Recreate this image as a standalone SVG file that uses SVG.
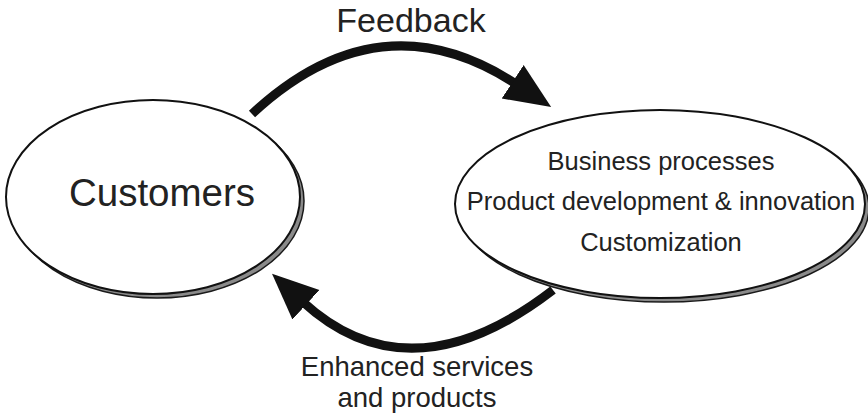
<svg xmlns="http://www.w3.org/2000/svg" width="868" height="417" viewBox="0 0 868 417">
<style>
.shadow{fill:#8a8a8a;stroke:#1a1a1a;stroke-width:1.5}
.main{fill:#fff;stroke:#111;stroke-width:2}
.t{font-family:"Liberation Sans",Arial,sans-serif;fill:#222;text-anchor:middle}
.conn{fill:none;stroke:#111;stroke-width:9}
</style>
<defs>
<marker id="ah" markerUnits="userSpaceOnUse" markerWidth="48" markerHeight="42" refX="4" refY="21" orient="auto" viewBox="0 0 48 42">
<polygon points="0,1 46,21 0,41" fill="#111"/>
</marker>
</defs>
<g id="connectors">
<path class="conn" d="M252,114 Q380,-5 516,84" marker-end="url(#ah)"/>
<path class="conn" d="M553,290 Q410,400 303,302" marker-end="url(#ah)"/>
</g>
<g id="customers">
<ellipse class="shadow" cx="157" cy="201" rx="147" ry="97"/>
<ellipse class="main" cx="153" cy="197" rx="147" ry="97"/>
<text class="t" x="162" y="206" font-size="38.5">Customers</text>
</g>
<g id="business">
<ellipse class="shadow" cx="664" cy="208" rx="205" ry="94"/>
<ellipse class="main" cx="660" cy="204" rx="205" ry="94"/>
<text class="t" x="661" y="170" font-size="25.5">Business processes</text>
<text class="t" x="661" y="210" font-size="25.5">Product development &amp; innovation</text>
<text class="t" x="661" y="251" font-size="25.5">Customization</text>
</g>
<g id="labels">
<text class="t" x="411" y="32" font-size="34">Feedback</text>
<text class="t" x="417" y="376" font-size="27.5">Enhanced services</text>
<text class="t" x="417" y="407" font-size="27.5">and products</text>
</g>
</svg>
